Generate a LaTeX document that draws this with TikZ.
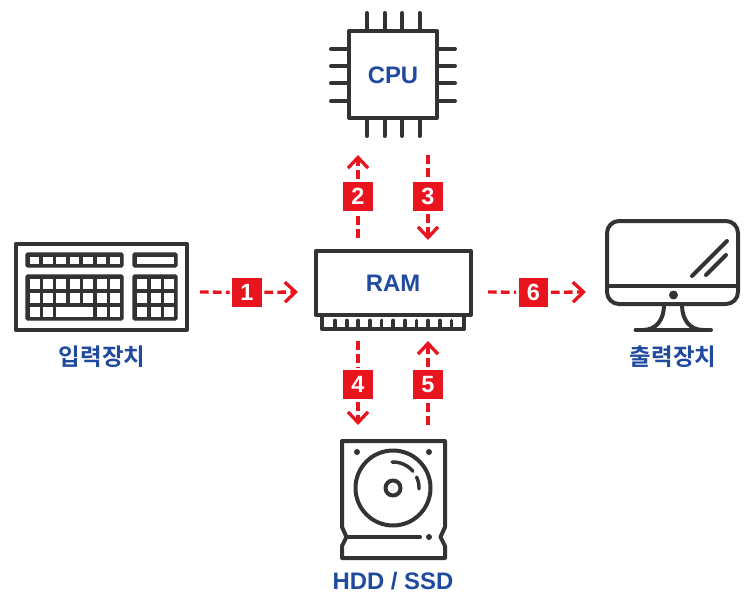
\documentclass[tikz,border=0pt]{standalone}
\usepackage{fontspec}
\setmainfont{Liberation Sans}
\newfontfamily\krfont{Noto Sans CJK KR}[BoldFont={* Bold}]
\usetikzlibrary{arrows.meta}
\definecolor{ink}{HTML}{333333}
\definecolor{lab}{HTML}{1F4A9E}
\definecolor{redc}{HTML}{E8141E}
\tikzset{
  x=0.75pt,y=-0.75pt,
  icon/.style={draw=ink,line width=3pt,line join=round,line cap=round},
  thin icon/.style={draw=ink,line width=2.6pt,line join=round,line cap=round},
  txt/.style={text=lab,font=\fontsize{17.9pt}{20pt}\selectfont\bfseries,inner sep=0pt},
  krtxt/.style={text=lab,font=\krfont\fontsize{17.6pt}{20pt}\selectfont\bfseries,inner sep=0pt},
  num/.style={fill=redc,text=white,font=\fontsize{17.6pt}{20pt}\selectfont\bfseries,minimum size=21.8pt,inner sep=0pt,outer sep=2.2pt},
  flow/.style={draw=redc,line width=2.5pt,dash pattern=on 6.5pt off 3.2pt},
  flowh/.style={flow,-{Straight Barb[length=8pt,width=15pt,line width=2.5pt]}},
  key/.style={fill=white,draw=none},
  block/.style={fill=ink,draw=ink,line width=0.8pt,rounded corners=1pt},
}
\begin{document}
\begin{tikzpicture}
\useasboundingbox (0,0) rectangle (753,606);
% CPU
\draw[icon] (349,31) rectangle (437,118);
\foreach \p in {367,384.5,402,419.5}{
  \draw[icon] (\p,13) -- (\p,31);
  \draw[icon] (\p,118) -- (\p,136);
}
\foreach \p in {49,66,83.5,101}{
  \draw[icon] (331,\p) -- (349,\p);
  \draw[icon] (437,\p) -- (455,\p);
}
\node[txt] (cpu) at (393,75) {CPU};
% RAM
\draw[icon] (315.5,251) rectangle (471,315);
\draw[icon] (322,315) -- (322,329) -- (464,329) -- (464,315);
\foreach \i in {0,...,10}{
  \draw[draw=ink,line width=2.8pt,line cap=round] ({335+\i*11.65},320.5) -- ({335+\i*11.65},329);
}
\node[txt] (ram) at (393,283) {RAM};
% Keyboard
\draw[icon] (15.5,244) rectangle (187,329.5);
\fill[block] (26,253) rectangle (123,267);
\fill[block] (133,253) rectangle (177,267);
\fill[block] (26,275) rectangle (123,320);
\fill[block] (133,275) rectangle (177,320);
\foreach \k in {29.5,43,56,69.5,83,96.5,110}{
  \fill[key] (\k,256.5) rectangle +(9.5,7);
}
\fill[key] (136.5,256.5) rectangle (173.5,263.5);
\foreach \k in {29.5,43,56,69.5,83,96.5,110}{
  \fill[key] (\k,279.3) rectangle +(10,10);
  \fill[key] (\k,292.8) rectangle +(10,10);
}
\foreach \k in {29.5,43,96.5,110}{
  \fill[key] (\k,306.7) rectangle +(10,10);
}
\fill[key] (56,306.7) rectangle (93,316.7);
\foreach \k in {137.3,150.5,164}{
  \fill[key] (\k,279.3) rectangle +(10,10);
  \fill[key] (\k,292.8) rectangle +(10,10);
  \fill[key] (\k,306.7) rectangle +(10,10);
}
\node[krtxt] (input) at (102,356.5) {입력장치};
% Monitor
\draw[icon,rounded corners=9pt] (607,221) rectangle (738,304);
\draw[icon] (607,286) -- (738,286);
\fill[ink] (673.5,295) circle[radius=4.5];
\draw[icon] (692,276) -- (727,241);
\draw[icon] (706,275) -- (726,255);
\draw[icon] (635.5,330) -- (711,330);
\draw[icon] (664,305) .. controls (664,320) and (656,330) .. (643,330);
\draw[icon] (682,305) .. controls (682,320) and (690,330) .. (703,330);
\node[krtxt] (output) at (673,356.5) {출력장치};
% HDD
\draw[icon] (342,441) -- (445,441) -- (445,527) -- (440.5,537) -- (445,546) -- (445,558) -- (342,558) -- (342,546) -- (346.5,537) -- (342,527) -- cycle;
\draw[thin icon,line width=3pt] (393,488) circle[radius=37.5];
\draw[thin icon,line width=3pt] (393,488) circle[radius=7.5];
\draw[thin icon] plot[domain=40:92,samples=15,smooth] ({393+26*cos(\x)},{488-26*sin(\x)});
\draw[thin icon] plot[domain=-2:25,samples=10,smooth] ({393+26*cos(\x)},{488-26*sin(\x)});
\fill[ink] (357,452) circle[radius=3];
\fill[ink] (429,452) circle[radius=3];
\fill[ink] (429,537) circle[radius=3];
\draw[icon] (347,537) -- (420,537);
\node[txt] (hdd) at (393,581) {HDD / SSD};
% Connectors
\coordinate (a1s) at (200,292);
\coordinate (a1e) at (298,292);
\coordinate (a2s) at (358,238);
\coordinate (a2e) at (358,155);
\coordinate (a3s) at (428,155);
\coordinate (a3e) at (428,240);
\coordinate (a4s) at (358,341);
\coordinate (a4e) at (358,425);
\coordinate (a5s) at (428,425);
\coordinate (a5e) at (428,341);
\coordinate (a6s) at (488,292);
\coordinate (a6e) at (586,292);
\node[num] (n1) at (247,292.5) {1};
\node[num] (n2) at (358,196.5) {2};
\node[num] (n3) at (428,196.5) {3};
\node[num] (n4) at (358,384.5) {4};
\node[num] (n5) at (428,384.5) {5};
\node[num] (n6) at (533.5,292.5) {6};
\foreach \i in {1,...,6}{
  \draw[flow] (a\i s) -- (n\i);
  \draw[flowh] (n\i) -- (a\i e);
}
\end{tikzpicture}
\end{document}
